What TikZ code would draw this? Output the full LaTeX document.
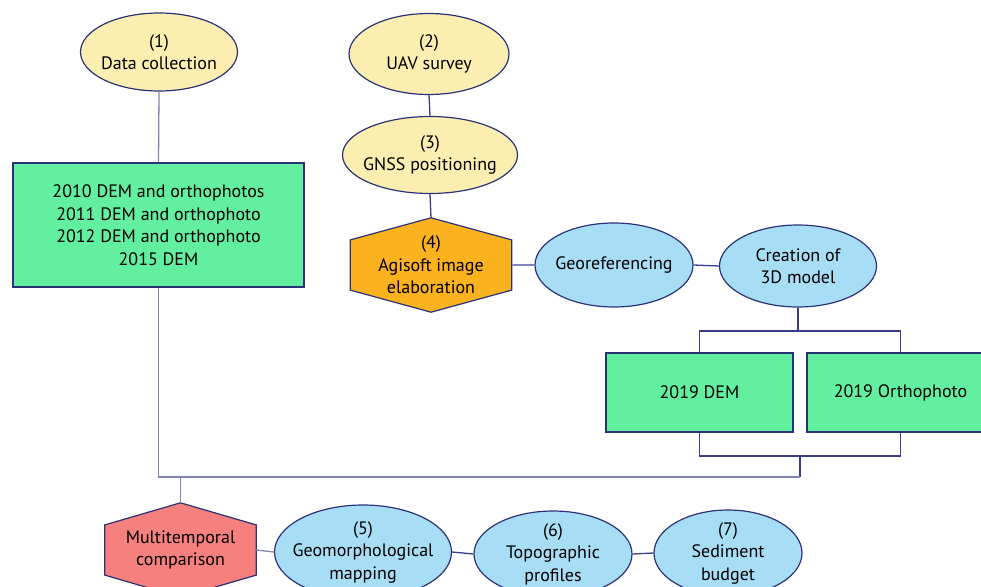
\documentclass[tikz,border=0pt]{standalone}
\usepackage{fontspec}
\setmainfont{PT Sans}
\usetikzlibrary{shapes.geometric,calc,backgrounds}
\definecolor{edge}{HTML}{2B3278}
\definecolor{linkdark}{HTML}{3C3C8C}
\definecolor{linklight}{HTML}{8484B8}
\definecolor{yellowfill}{HTML}{FCEEB0}
\definecolor{bluefill}{HTML}{A8DEF5}
\definecolor{greenfill}{HTML}{62F0A0}
\definecolor{orangefill}{HTML}{FAB21E}
\definecolor{redfill}{HTML}{F5807D}
\tikzset{
    every node/.style={font=\fontsize{18}{22.5}\selectfont, align=center, inner sep=0pt},
    yellowell/.style={ellipse, draw=edge, line width=1.2pt, fill=yellowfill, inner xsep=-10pt, inner ysep=-4pt},
    blueell/.style={ellipse, draw=edge, line width=1.2pt, fill=bluefill, inner xsep=-10pt, inner ysep=-4pt},
    greenbox/.style={rectangle, draw=edge, line width=1.2pt, fill=greenfill},
    hexa/.style={rectangle, minimum height=94pt},
    link/.style={draw=linkdark, line width=1.3pt},
    linkfaint/.style={draw=linklight, line width=1.3pt}
}
\begin{document}
\begin{tikzpicture}[x=1pt, y=-1pt]
\useasboundingbox (0,0) rectangle (981,586);
\node[yellowell, minimum width=157pt, minimum height=78pt] (collect) at (159,52) {(1)\\Data collection};
\node[greenbox, minimum width=291pt, minimum height=124pt] (archive) at (158.5,225) {2010 DEM and orthophotos\\2011 DEM and orthophoto\\2012 DEM and orthophoto\\2015 DEM};
\node[yellowell, minimum width=160pt, minimum height=81pt] (uav) at (429,54) {(2)\\UAV survey};
\node[yellowell, minimum width=175pt, minimum height=77pt] (gnss) at (430,155) {(3)\\GNSS positioning};
\node[hexa, minimum width=161pt] (agisoft) at (431,265) {(4)\\Agisoft image\\elaboration};
\node[blueell, minimum width=158pt, minimum height=84pt] (georef) at (614,265) {Georeferencing};
\node[blueell, minimum width=157pt, minimum height=82pt] (model) at (798,266) {Creation of\\3D model};
\node[greenbox, minimum width=187pt, minimum height=79pt] (dem) at (699.5,392.5) {2019 DEM};
\node[greenbox, minimum width=187pt, minimum height=79pt] (ortho) at (900.5,392.5) {2019 Orthophoto};
\node[hexa, minimum width=151pt] (multi) at (180.5,550) {Multitemporal\\comparison};
\node[blueell, minimum width=177pt, minimum height=94pt] (geomorph) at (363,552) {(5)\\Geomorphological\\mapping};
\node[blueell, minimum width=158pt, minimum height=86pt] (topo) at (553,554) {(6)\\Topographic\\profiles};
\node[blueell, minimum width=148pt, minimum height=86pt] (budget) at (728,553) {(7)\\Sediment\\budget};

\begin{pgfonlayer}{background}
\foreach \n/\c in {agisoft/orangefill, multi/redfill}
{
    \filldraw[fill=\c, draw=edge, line width=1.2pt](\n.north)--($(\n.north east)!.234!(\n.south east)$)--($(\n.north east)!.766!(\n.south east)$)--(\n.south)--($(\n.north west)!.766!(\n.south west)$)--($(\n.north west)!.234!(\n.south west)$)--cycle;
}
\end{pgfonlayer}

\coordinate (split) at (800,331);
\coordinate (merge) at (800,456);
\coordinate (join) at (800,477);
\draw[linkfaint](collect.south)--(archive.north);
\draw[link](uav.south)--(gnss.north);
\draw[link](gnss.south)--(agisoft.north);
\draw[linkfaint](agisoft.east)--(georef.west);
\draw[link](georef.east)--(model.west);
\draw[link](model.south)--(model.south |- split);
\draw[link](dem.north)|-(split)-|(ortho.north);
\draw[link](dem.south)|-(merge)-|(ortho.south);
\draw[link](merge)--(join);
\draw[linkfaint](archive.south)|-(join);
\draw[linkfaint](multi.north)--(multi.north |- join);
\draw[linkfaint](multi.east)--(geomorph.west);
\draw[link](geomorph.east)--(topo.west);
\draw[link](topo.east)--(budget.west);
\end{tikzpicture}
\end{document}
